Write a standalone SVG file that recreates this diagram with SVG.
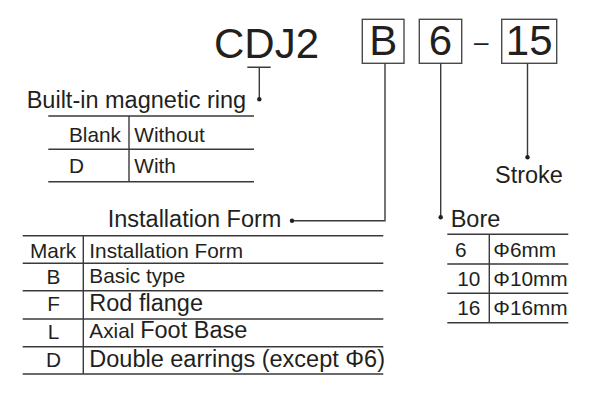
<svg xmlns="http://www.w3.org/2000/svg" width="600" height="400" viewBox="0 0 600 400">
<style>
text{font-family:"Liberation Sans",Arial,sans-serif;fill:#231f20}
.big{font-size:42px}
.t{font-size:23.5px}
.s{font-size:20.8px}
.m{text-anchor:middle}
.ln{stroke:#3a3a3a;stroke-width:1.4;fill:none}
.box{stroke:#4a4a4a;stroke-width:1.4;fill:#fff}
.dot{fill:#231f20}
</style>
<rect width="600" height="400" fill="#fff"/>
<g id="code">
<text class="big" x="214" y="58">CDJ2</text>
</g>
<g id="node-B">
<rect class="box" x="362.3" y="19.3" width="41.7" height="44"/>
<text class="big m" x="383.2" y="55">B</text>
</g>
<g id="node-6">
<rect class="box" x="419.3" y="19.3" width="42.4" height="44"/>
<text class="big m" x="440.5" y="55">6</text>
</g>
<g id="dash">
<text class="m" x="481.3" y="50.5" style="font-size:26px">–</text>
</g>
<g id="node-15">
<rect class="box" x="501.7" y="19.3" width="55" height="44"/>
<text class="big m" x="529.2" y="55">15</text>
</g>
<g id="connectors">
<path class="ln" d="M247.3 67.3H270.7M259.3 67.3V99.3"/>
<circle class="dot" cx="259.3" cy="99.3" r="2.2"/>
<path class="ln" d="M385 63.3V220.7H292"/>
<circle class="dot" cx="292" cy="220.7" r="2.2"/>
<path class="ln" d="M440.7 63.3V217.3"/>
<circle class="dot" cx="440.7" cy="217.3" r="2.2"/>
<path class="ln" d="M527.5 63.3V157.3"/>
<circle class="dot" cx="527.5" cy="157.3" r="2.2"/>
</g>
<g id="magnetic-ring">
<text class="t" x="26.7" y="108.3">Built-in magnetic ring</text>
<path class="ln" d="M48.3 116H254M48.3 149.3H254M48.3 181.7H254M129 116V181.7"/>
<text class="s" x="69" y="141.7">Blank</text>
<text class="s" x="134.3" y="141.7">Without</text>
<text class="s" x="69" y="172.7">D</text>
<text class="s" x="134.3" y="172.7">With</text>
</g>
<g id="installation-form">
<text class="t" x="107.7" y="226.7">Installation Form</text>
<path class="ln" d="M22.7 235.7H383.3M22.7 263.3H383.3M22.7 290.7H383.3M22.7 319H383.3M22.7 346.7H383.3M22.7 374H383.3M83.3 235.7V374"/>
<text class="s" x="30" y="258.3">Mark</text>
<text class="s" x="89.3" y="258.3">Installation Form</text>
<text class="s m" x="53.5" y="283.5">B</text>
<text class="s" x="89.3" y="283.3">Basic type</text>
<text class="s m" x="53.5" y="311">F</text>
<text class="t" x="89.3" y="311">Rod flange</text>
<text class="s m" x="53.5" y="338.5">L</text>
<text x="89.3" y="338.3"><tspan class="s">Axial </tspan><tspan class="t">Foot Base</tspan></text>
<text class="s m" x="53.5" y="366.5">D</text>
<text class="t" x="89.3" y="366.7">Double earrings (except Φ6)</text>
</g>
<g id="stroke">
<text class="t" x="495" y="183.3">Stroke</text>
</g>
<g id="bore">
<text class="t" x="450.7" y="227.3">Bore</text>
<path class="ln" d="M447.3 234.3H568.3M447.3 264H568.3M447.3 293.3H568.3M447.3 322.7H568.3M489.3 234.3V322.7"/>
<text class="s" x="455" y="256.7">6</text>
<text class="s" x="493.3" y="256.7">Φ6mm</text>
<text class="s" x="457.3" y="285.5">10</text>
<text class="s" x="493.3" y="285.5">Φ10mm</text>
<text class="s" x="457.3" y="314.5">16</text>
<text class="s" x="493.3" y="314.5">Φ16mm</text>
</g>
</svg>
